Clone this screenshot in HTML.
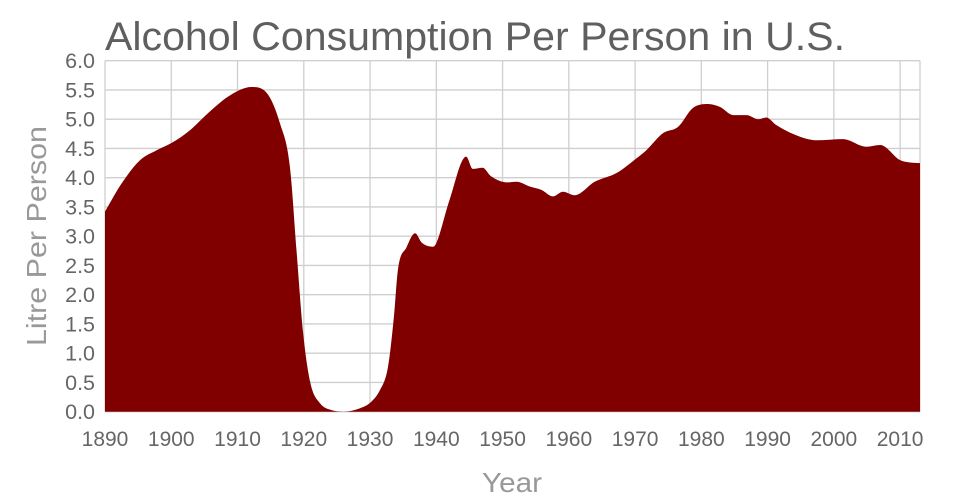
<!DOCTYPE html>
<html><head><meta charset="utf-8"><style>
html,body{margin:0;padding:0;background:#fff;}
svg{display:block;font-family:"Liberation Sans",sans-serif;}
</style></head><body>
<svg id="chart" width="960" height="500" viewBox="0 0 960 500">
<text x="105" y="50" font-size="40" fill="#5f5f5f" textLength="740" lengthAdjust="spacingAndGlyphs">Alcohol Consumption Per Person in U.S.</text>
<g id="grid"></g>
<path id="area" fill="#800000"></path>
<g id="yticks"></g>
<g id="xticks"></g>
<text transform="translate(46,236) rotate(-90)" text-anchor="middle" font-size="28" fill="#999" textLength="220" lengthAdjust="spacingAndGlyphs">Litre Per Person</text>
<text x="512" y="492" text-anchor="middle" font-size="28" fill="#999" textLength="60" lengthAdjust="spacingAndGlyphs">Year</text>
</svg>
<script>
const years=[1890,1892.5,1895.3,1897.8,1900,1902.8,1905.8,1908.9,1912.1,1914.4,1916.4,1917.9,1918.9,1919.9,1921,1922.4,1924.4,1926,1928.5,1930,1931.5,1932.7,1933.6,1934.2,1935.5,1936.8,1937.8,1939.5,1940,1942,1944.5,1945.5,1947,1948.2,1950.8,1952.1,1954.1,1955.9,1957.6,1959.1,1960.9,1963.9,1967.2,1970.2,1971.7,1974.2,1976.5,1978.7,1981,1982.8,1984.8,1986.8,1988.6,1989.8,1991.3,1994.9,1997.4,2001.4,2004.9,2007,2010,2011.5,2013];
const litres=[3.42,3.9,4.3,4.47,4.59,4.81,5.13,5.41,5.55,5.45,4.93,4.19,2.76,1.35,0.49,0.15,0.02,0.0,0.06,0.15,0.37,0.76,1.62,2.42,2.81,3.05,2.89,2.82,2.88,3.62,4.36,4.15,4.17,4.03,3.92,3.93,3.85,3.79,3.68,3.76,3.70,3.93,4.08,4.33,4.47,4.76,4.87,5.19,5.26,5.21,5.07,5.07,5.0,5.03,4.9,4.70,4.64,4.66,4.53,4.56,4.30,4.26,4.25];
const yTickLabels=["0.0","0.5","1.0","1.5","2.0","2.5","3.0","3.5","4.0","4.5","5.0","5.5","6.0"];
const xTickLabels=["1890","1900","1910","1920","1930","1940","1950","1960","1970","1980","1990","2000","2010"];
const L=105,R=920,T=60.7,B=411.7,X0=1890,X1=2013,YMAX=6;
const sx=v=>L+(v-X0)/(X1-X0)*(R-L);
const sy=v=>B-v/YMAX*(B-T);
const NS="http://www.w3.org/2000/svg";
const grid=document.getElementById('grid'),yt=document.getElementById('yticks'),xt=document.getElementById('xticks');
function mk(tag,attrs,parent){const e=document.createElementNS(NS,tag);for(const k in attrs)e.setAttribute(k,attrs[k]);parent.appendChild(e);return e;}
yTickLabels.forEach(s=>{const v=parseFloat(s),y=sy(v);
 const l=mk('line',{x1:L,x2:R,y1:y,y2:y,stroke:'#cfcfcf','stroke-width':1.3},grid);
 
 
 const t=mk('text',{x:95,y:y+7.5,'text-anchor':'end','font-size':21.5,fill:'#666'},yt);t.textContent=s;
 
 
});
xTickLabels.forEach(s=>{const v=parseFloat(s),x=sx(v);
 const l=mk('line',{x1:x,x2:x,y1:T,y2:B,stroke:'#cfcfcf','stroke-width':1.3},grid);
 
 
 const t=mk('text',{x:x,y:446,'text-anchor':'middle','font-size':21,fill:'#666'},xt);t.textContent=s;
 
 
});
mk('line',{x1:R,x2:R,y1:T,y2:B,stroke:'#cfcfcf','stroke-width':1.3},grid);
const px=years.map(sx),py=litres.map(sy),n=px.length;
const d=[],m=new Array(n);
for(let i=0;i<n-1;i++)d.push((py[i+1]-py[i])/(px[i+1]-px[i]));
m[0]=d[0];m[n-1]=d[n-2];
for(let i=1;i<n-1;i++){m[i]=(d[i-1]*d[i]<=0)?0:(d[i-1]+d[i])/2;}
for(let i=0;i<n-1;i++){if(d[i]===0){m[i]=0;m[i+1]=0;continue;}const a=m[i]/d[i],b=m[i+1]/d[i],h=a*a+b*b;if(h>9){const t=3/Math.sqrt(h);m[i]=t*a*d[i];m[i+1]=t*b*d[i];}}
let p=`M${px[0]},${B}L${px[0]},${py[0]}`;
for(let i=0;i<n-1;i++){const h=(px[i+1]-px[i])/3;p+=`C${px[i]+h},${py[i]+m[i]*h} ${px[i+1]-h},${py[i+1]-m[i+1]*h} ${px[i+1]},${py[i+1]}`;}
p+=`L${px[n-1]},${B}Z`;
document.getElementById('area').setAttribute('d',p);
</script>
</body></html>
